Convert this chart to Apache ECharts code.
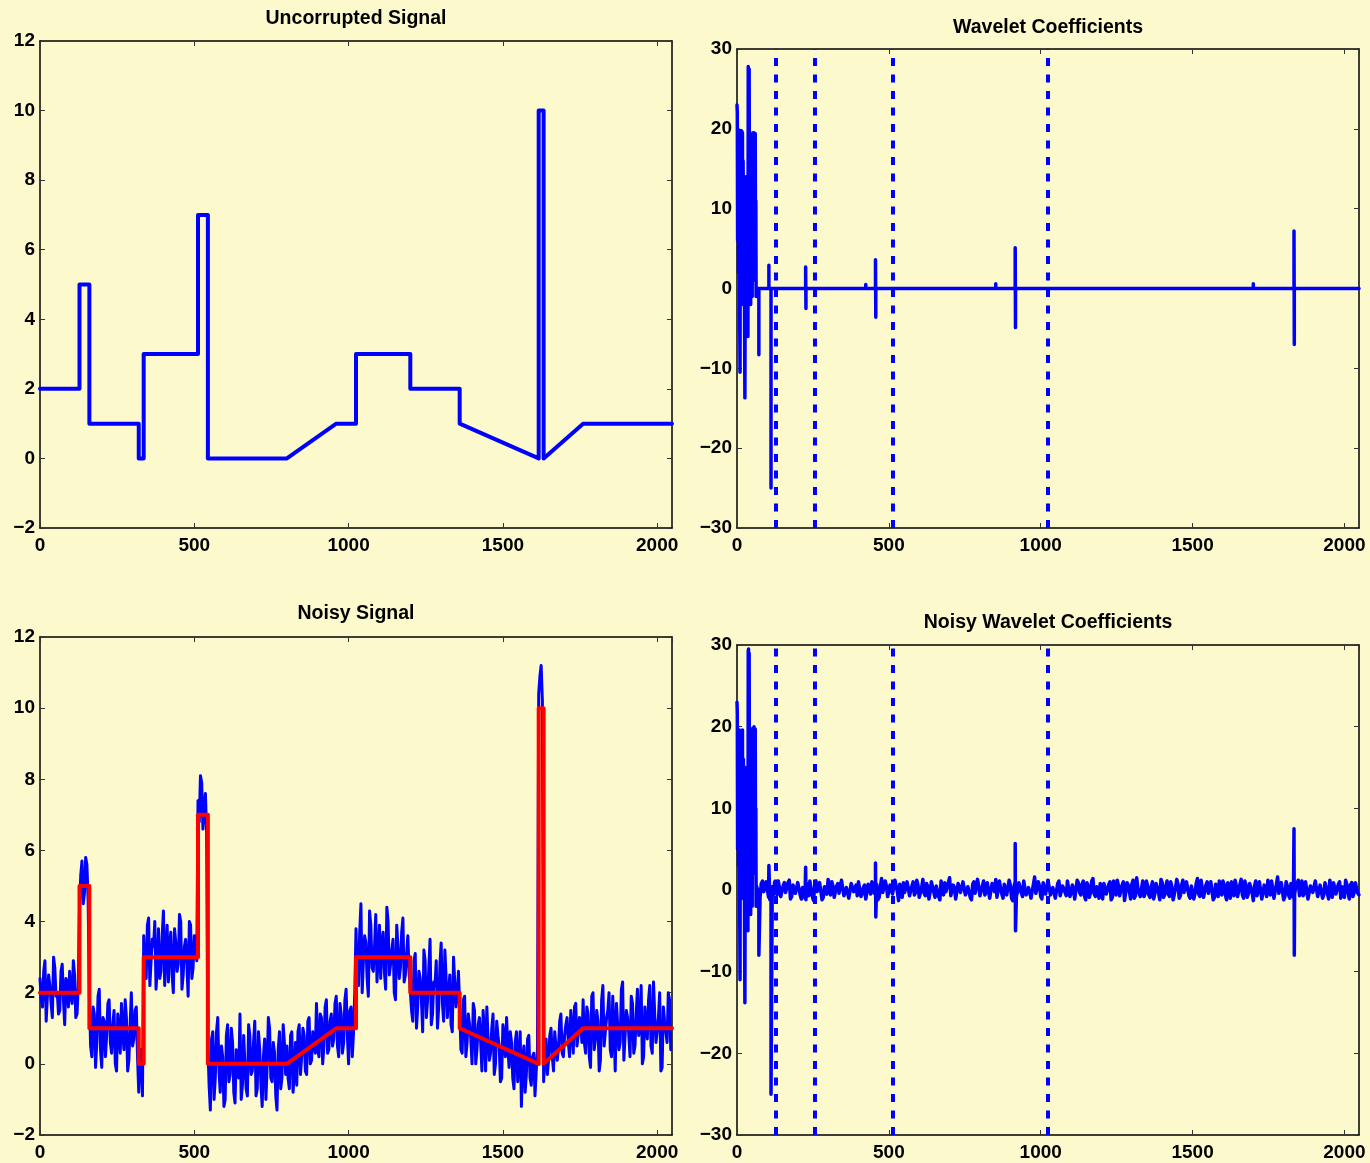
<!DOCTYPE html>
<html>
<head>
<meta charset="utf-8">
<title>Wavelet denoising</title>
<script src="https://cdn.jsdelivr.net/npm/echarts@6/dist/echarts.min.js"></script>
<style>
html, body { margin: 0; padding: 0; background: #fcfacc; }
#chart { width: 1370px; height: 1163px; }
</style>
</head>
<body>
<div id="chart"></div>
<script>
// clean piecewise signal (breakpoints)
const signalX = [0, 128, 128, 160, 160, 320, 320, 336, 336, 512, 512, 544, 544, 800, 960, 1024, 1024, 1200, 1200, 1360, 1360, 1616, 1616, 1632, 1632, 1760, 2048];
const signalY = [2, 2, 5, 5, 1, 1, 0, 0, 3, 3, 7, 7, 0, 0, 1, 1, 3, 3, 2, 2, 1, 0, 10, 10, 0, 1, 1];

// noisy signal, read at x = 0, 8, 16, ...
const noisyStep = 8;
const noisySignal = [
  2.4, 1.6, 2.9, 1.9, 2.2, 1.3, 2.7, 2.0, 1.5, 2.8, 1.1, 2.3, 2.6, 1.7, 2.5, 1.4,
  4.4, 5.7, 4.8, 5.6, 1.9, 0.2, 1.4, 0.6, 2.1, -0.1, 1.2, 0.8, 1.8, 0.3, 1.5, -0.2,
  1.0, 1.7, 0.4, 1.3, 0.1, 2.0, 0.7, 1.6, -0.8, 0.4, 3.6, 2.4, 4.1, 2.9, 3.3, 2.1,
  3.8, 2.6, 4.3, 3.1, 2.3, 3.7, 2.0, 3.4, 2.8, 4.0, 2.5, 3.5, 1.9, 3.9, 2.7, 3.2,
  7.4, 8.1, 6.6, 7.6, 0.5, -1.3, 0.9, -0.4, 1.3, -0.8, 0.2, -1.0, 1.1, -0.3, 0.6, -1.1,
  0.3, 1.4, -0.6, 0.0, -0.9, 0.8, -0.2, 1.2, -0.7, 0.4, -1.2, 0.7, -0.1, 1.0, -0.5, 0.3,
  -1.3, 0.9, -0.4, 0.6, 0.5, -0.7, 0.9, -0.2, -0.6, 1.1, 0.2, 0.8, -0.3, 1.3, 0.1, 0.9,
  1.7, 0.2, 1.3, 0.5, 1.8, 0.4, 1.4, 0.7, 1.9, 0.2, 1.4, 0.6, 2.1, 0.0, 1.6, 0.9,
  3.8, 2.2, 4.5, 2.9, 3.4, 1.9, 3.9, 2.6, 4.2, 3.0, 2.4, 3.7, 2.1, 4.0, 2.8, 3.5,
  1.8, 3.3, 2.7, 4.1, 2.5, 3.6, 2.6, 1.2, 3.1, 1.6, 2.4, 0.9, 2.9, 1.8, 3.5, 1.4,
  2.2, 1.0, 2.8, 1.7, 3.2, 1.3, 2.5, 0.9, 3.0, 1.9, 1.6, 0.3, 1.9, 0.6, 1.1, 0.0,
  1.5, 0.4, 1.3, -0.2, 0.9, 1.6, 0.1, 1.0, -0.3, 1.2, 0.5, -0.4, 0.8, 1.3, -0.1, 0.6,
  -0.7, 0.9, 0.2, -1.2, 0.5, -0.3, 0.8, -0.6, 0.3, -0.2, 10.4, 11.2, -0.5, 0.7, 0.1, 1.0,
  -0.2, 0.9, 0.4, 1.4, 0.2, 1.1, 0.6, 1.5, 0.3, 1.7, 0.8, 1.2, 1.8, 0.3, 1.4, -0.1,
  2.0, 0.7, 1.2, 0.1, 2.2, 0.9, 1.5, 0.4, 1.9, -0.2, 1.1, 0.6, 2.3, 0.8, 1.3, 0.2,
  1.7, 0.5, 2.1, 1.0, 0.0, 1.6, 0.7, 2.2, 0.3, 1.4, 0.9, 2.0, -0.1, 1.2, 0.6, 1.8
];
// noisy signal, read at x = 4, 12, 20, ...
const noisySignalMid = [
  1.8, 2.6, 1.2, 2.5, 1.7, 3.0, 1.9, 1.4, 2.6, 1.8, 2.4, 1.6, 1.9, 2.9, 1.3, 2.2,
  5.3, 4.5, 5.8, 4.6, 0.5, 1.6, -0.1, 1.9, 0.4, 1.3, 0.2, 1.7, 0.6, 1.1, 0.0, 1.4,
  0.3, 0.9, 1.8, -0.2, 1.1, 0.5, 1.5, 0.2, 0.3, -0.9, 2.6, 3.9, 2.2, 3.5, 4.0, 2.7,
  2.4, 3.6, 2.2, 3.9, 3.4, 2.5, 3.8, 2.6, 4.2, 2.1, 3.3, 2.8, 4.0, 2.4, 3.6, 2.9,
  6.8, 7.9, 7.2, 6.5, -0.6, 0.7, -1.0, 0.9, -0.2, 0.5, -1.2, 0.8, -0.5, 1.0, -0.8, 0.4,
  -0.4, -1.0, 0.8, -0.7, 1.1, -0.3, 0.6, -0.9, 0.9, -0.6, 0.2, -1.0, 1.3, -0.4, 0.6, -0.9,
  0.4, -0.7, 1.1, -0.3, -0.4, 0.8, -0.8, 0.6, 0.9, -0.3, 1.0, -0.2, 1.2, 0.0, 0.9, 0.3,
  0.4, 1.4, 0.0, 1.6, 0.3, 1.2, 0.5, 1.7, 0.5, 1.7, 0.3, 1.8, 0.8, 1.5, 0.2, 2.0,
  2.5, 3.7, 2.0, 3.6, 2.4, 4.3, 2.7, 3.3, 2.3, 3.9, 3.4, 2.6, 4.4, 2.5, 3.2, 2.0,
  3.9, 2.4, 3.7, 2.3, 3.1, 2.6, 1.5, 2.9, 1.0, 2.6, 1.8, 3.2, 1.3, 2.7, 1.1, 2.3,
  2.9, 1.6, 3.4, 1.2, 2.4, 2.0, 1.1, 3.0, 1.6, 2.6, 0.4, 1.8, 0.2, 1.4, 0.7, 1.7,
  0.0, 1.1, 0.6, 1.5, -0.2, 0.7, 0.3, 1.4, 0.0, 0.8, -0.5, 1.1, 0.2, 0.5, 0.9, -0.4,
  0.6, -0.5, 0.9, 0.1, -0.8, 0.7, -0.4, 0.2, -0.9, 0.4, 10.9, 10.2, 0.3, -0.3, 0.8, 0.2,
  0.9, 0.1, 1.2, 0.3, 0.8, 1.3, 0.2, 1.0, 1.6, 0.5, 1.3, 0.6, 0.6, 1.6, 0.2, 1.9,
  0.4, 1.5, -0.2, 1.8, 0.5, 1.3, 2.0, 0.2, 1.0, 1.7, 0.4, 2.1, 0.1, 1.5, 0.8, 1.9,
  0.3, 1.4, 0.8, 2.2, 0.2, 1.1, 1.8, 0.5, 2.3, 0.6, 1.3, -0.2, 1.6, 0.9, 2.0, 0.4
];

// wavelet coefficients: coarse part (index 0..64)
const coefHead = [
  23, 22, 6, 20, 19.6, 2, 18, 10, 19.8, -4, -10.5, 19.5, 8, 19.8, 1, 17,
  19.7, 5, 19.5, -2, 16, 16.2, 3, 12, 6, -5, -13.7, 2, 9, 14, 4, 8,
  1, 12, 5, 10, -6, 27.8, 28, 14, 27.5, 6, 9, 2, 11, -2, 7, 13,
  3, 8, -1, 12, 19.5, 6, 19.3, 2, 19.5, 9, 17, 1, 19.4, 4, 11, -1,
  0
];
// isolated detail coefficients (everything else is zero)
const coefSpikeX = [72, 105, 112, 226, 227, 424, 456, 457, 852, 916, 917, 1700, 1834, 1835];
const coefSpikeY = [-8.3, 2.9, -25, 2.7, -2.5, 0.5, 3.6, -3.6, 0.6, 5.1, -4.9, 0.6, 7.2, -7];

// noisy coefficients
const noisyHead = [
  23, 21.5, 5, 19.5, 19.2, 3, 17.5, 11, 19.6, -3, -11, 19.2, 7, 19.5, 2, 16,
  19.3, 4, 19.6, -1, 15.5, 16, 4, 11, 7, -6, -13.8, 3, 8, 15, 5, 9,
  2, 11, 6, 9, -5, 29.2, 29.5, 13, 29, 7, 8, 3, 10, -3, 8, 12,
  4, 7, -2, 13, 19.8, 5, 19.6, 3, 20, 8, 16, 2, 19.7, 5, 10, -2,
  0.5
];
const noisySpikeX = [72, 105, 112, 226, 227, 456, 457, 916, 917, 1834, 1835];
const noisySpikeY = [-8, 3, -25, 2.8, -1.2, 3.3, -3.3, 5.7, -5, 7.5, -8];
// small noisy coefficients, read at x = 68, 76, 84, ...
const noiseStart = 68;
const noiseStep = 8;
const noisyNoise = [
  0.6, -0.9, 1.1, -0.3, 0.8, -1.2, 0.4, 1.0, -0.6, 0.2, -1.0, 0.9, -0.4, 1.2, -0.8, 0.3,
  -0.2, 1.0, -1.1, 0.5, 0.9, -0.7, 0.1, -1.3, 1.1, -0.4, 0.7, -0.9, 0.3, 1.3, -0.6, 0.5,
  -1.0, 0.8, -0.3, 1.1, -0.8, 0.4, -1.2, 0.9, 0.0, -0.7, 1.2, -0.5, 0.6, -1.1, 0.2, 1.0,
  -0.4, 0.7, -0.9, 1.4, -0.2, 0.5, -1.0, 0.8, -0.6, 1.1, -1.3, 0.3, 0.9, -0.5, 0.2, -0.8,
  1.0, -0.3, 0.6, -1.1, 1.3, -0.7, 0.4, -0.2, 1.1, -0.9, 0.7, -1.2, 0.2, 0.9, -0.4, 1.5,
  -0.8, 0.3, -1.0, 0.8, -0.5, 1.2, -0.1, 0.6, -1.2, 1.0, -0.6, 0.4, -0.9, 1.1, -0.3, 0.7,
  -1.1, 0.5, 1.3, -0.7, 0.2, -1.0, 0.9, -0.4, 0.6, -1.3, 1.0, -0.2, 0.8, -0.8, 1.2, -0.5,
  0.3, -0.9, 1.6, -0.6, 0.5, -1.1, 0.7, -0.3, 1.0, -0.8, 0.4, -1.2, 1.1, -0.1, 0.6, -0.7,
  1.3, -0.4, 0.2, -1.0, 0.9, -0.6, 1.1, -1.2, 0.5, -0.3, 1.4, -0.8, 0.1, 0.8, -1.1, 0.6,
  -0.5, 1.0, -0.9, 0.3, 1.2, -0.7, 0.6, -1.3, 0.9, -0.2, 0.7, -1.0, 1.5, -0.4, 0.2, -0.8,
  1.1, -0.6, 0.4, -1.1, 0.8, -0.3, 1.3, -0.9, 0.5, -0.5, 1.0, -1.2, 0.3, 0.7, -0.7, 1.2,
  -0.2, 0.9, -1.0, 0.6, -0.4, 1.4, -0.8, 0.2, -1.1, 1.0, -0.5, 0.8, -0.9, 0.4, 1.1, -0.6,
  0.7, -1.2, 0.3, 1.0, -0.7, 0.5, -0.1, 1.3, -1.0, 0.6, -0.4, 0.9, -1.3, 1.1, -0.2, 0.8,
  -0.9, 0.4, 1.2, -0.6, 0.1, -1.1, 1.6, -0.3, 0.7, -0.8, 0.5, -1.0, 1.0, -0.5, 0.3, -0.7,
  1.1, -0.4, 0.8, -1.2, 0.6, -0.2, 1.3, -0.9, 0.4, -0.6, 1.0, -1.1, 0.2, 0.9, -0.5, 0.7,
  -1.0, 0.5, 1.2, -0.3, 0.6, -0.8, 0.9, -0.4
];
// small noisy coefficients, read at x = 72, 80, 88, ...
const noiseMidStart = 72;
const noisyNoiseMid = [
  -0.5, 0.8, -0.2, 1.0, -0.9, 0.4, -0.6, 0.2, 1.1, -0.8, 0.5, -0.3, 0.9, -1.1, 0.6, -0.4,
  0.9, -0.6, 0.3, -1.0, 0.4, 1.1, -0.8, 0.6, -0.2, 0.9, -1.2, 0.4, -0.5, 0.7, 1.0, -0.9,
  0.5, -0.4, 1.2, -0.7, 0.3, -1.0, 0.8, -0.2, 0.6, 1.0, -0.8, 0.3, -1.1, 0.7, -0.5, 0.2,
  0.9, -1.2, 0.4, -0.3, 1.1, -0.8, 0.6, -0.5, 1.2, -0.2, 0.7, -0.9, -0.3, 1.0, -0.7, 0.5,
  -0.6, 1.2, -0.9, 0.3, -0.4, 0.8, -1.1, 1.0, -0.3, 0.5, -0.8, 1.1, -0.6, -0.2, 0.9, -0.7,
  0.6, -1.1, 0.8, -0.3, 1.0, -0.6, 0.4, -0.9, 0.7, -0.4, 1.3, -0.7, 0.5, -0.6, 0.9, -1.0,
  0.8, -0.2, -0.9, 1.1, -0.5, 0.7, -0.6, 1.2, -1.0, 0.4, -0.7, 0.9, -0.3, 1.1, -0.6, 0.3,
  -1.0, 0.7, -0.4, 1.0, -0.8, 0.9, -0.5, 1.2, -0.6, 0.3, -1.0, 0.8, -0.7, 0.5, -0.3, 1.1,
  -0.8, 0.6, -1.1, 1.2, -0.3, 0.7, -0.7, 0.9, -0.9, 1.1, -0.5, 0.4, -1.0, 0.6, 0.8, -0.5,
  0.7, -1.2, 1.1, -0.6, 0.5, -0.9, 1.0, -0.3, 0.6, -1.1, 1.2, -0.7, 0.2, -0.8, 1.1, -0.4,
  0.5, -0.9, 1.0, -0.4, 0.7, -1.2, 0.9, -0.6, 1.1, -0.8, 0.4, -0.5, 1.3, -1.0, 0.6, -0.3,
  1.0, -0.7, 0.5, -1.1, 0.8, -0.5, 1.2, -0.9, 0.6, -0.4, 1.0, -1.2, 0.7, -0.8, 0.3, 1.1,
  -0.6, 0.9, -1.0, 0.4, 1.2, -0.8, 0.7, -0.6, 1.1, -0.9, 0.8, -0.3, 0.5, -0.7, 1.0, -1.1,
  0.6, -0.8, 0.3, 1.1, -1.0, 0.7, -0.4, 0.9, -1.2, 1.0, -0.6, 0.8, -0.9, 0.4, 1.2, -0.5,
  -0.7, 1.0, -1.1, 0.5, -0.3, 1.1, -0.8, 0.6, -1.0, 0.9, -0.4, 1.2, -0.9, 0.3, -0.6, 1.0,
  0.4, -0.9, 0.7, -1.1, 0.9, -0.3, 1.0, -0.6
];

// scale boundaries
const dividerX = [128, 256, 512, 1024];

const titles = ['Uncorrupted Signal', 'Wavelet Coefficients', 'Noisy Signal', 'Noisy Wavelet Coefficients'];
const N = 2048;

// ---- build series data ----
const byX = (a, b) => a[0] - b[0];
const signalData = signalX.map((x, i) => [x, signalY[i]]);

const noisyData = noisySignal.map((v, i) => [i * noisyStep, v])
  .concat(noisySignalMid.map((v, i) => [i * noisyStep + noisyStep / 2, v]))
  .sort(byX);

// clean coefficients: head, then zero line with spikes (zero anchors keep spikes vertical)
const coefData = coefHead.map((v, i) => [i, v]);
coefSpikeX.forEach((x, i) => {
  if (coefSpikeX[i - 1] !== x - 1) coefData.push([x, 0]);
  coefData.push([x, coefSpikeY[i]]);
  if (coefSpikeX[i + 1] !== x + 1) coefData.push([x, 0]);
});
coefData.push([N, 0]);

const noisyCoefData = noisyHead.map((v, i) => [i, v])
  .concat(noisyNoise.map((v, i) => [noiseStart + i * noiseStep, v]))
  .concat(noisyNoiseMid.map((v, i) => [noiseMidStart + i * noiseStep, v]))
  .concat(noisySpikeX.map((x, i) => [x, noisySpikeY[i]]))
  .sort(byX);

// ---- layout ----
const grids = [
  { left: 40, top: 41, width: 632, height: 487 },
  { left: 737, top: 49, width: 622, height: 479 },
  { left: 40, top: 637, width: 632, height: 498 },
  { left: 737, top: 645, width: 622, height: 490 }
];
const titleTops = [9, 18, 604, 613];
const yRanges = [[-2, 12, 2], [-30, 30, 10], [-2, 12, 2], [-30, 30, 10]];

const FONT = '"Liberation Sans", Arial, Helvetica, sans-serif';
const fmt = v => (v < 0 ? '\u2212' + Math.abs(v) : String(v));

const axisLine = { show: true, onZero: false, lineStyle: { color: '#000', width: 1.5 } };
const tick = { show: true, inside: true, length: 5, lineStyle: { color: '#333', width: 1 } };
const label = { color: '#000', fontFamily: FONT, fontWeight: 'bold', fontSize: 19 };

const xAxes = [];
const yAxes = [];
grids.forEach((g, k) => {
  xAxes.push({
    type: 'value', gridIndex: k, position: 'bottom', min: 0, max: N, interval: 500,
    axisLine, axisTick: tick, splitLine: { show: false },
    axisLabel: Object.assign({ margin: 8, showMaxLabel: false, formatter: v => (v % 500 === 0 ? fmt(v) : '') }, label)
  });
  xAxes.push({
    type: 'value', gridIndex: k, position: 'top', min: 0, max: N, interval: 500,
    axisLine, axisTick: tick, splitLine: { show: false }, axisLabel: { show: false }
  });
  const r = yRanges[k];
  yAxes.push({
    type: 'value', gridIndex: k, position: 'left', min: r[0], max: r[1], interval: r[2],
    axisLine, axisTick: tick, splitLine: { show: false },
    axisLabel: Object.assign({ margin: 5, formatter: fmt }, label)
  });
  yAxes.push({
    type: 'value', gridIndex: k, position: 'right', min: r[0], max: r[1], interval: r[2],
    axisLine, axisTick: tick, splitLine: { show: false }, axisLabel: { show: false }
  });
});

const dividers = {
  symbol: 'none', silent: true, label: { show: false },
  lineStyle: { color: '#0000ff', width: 4, type: [8, 8.5] },
  data: dividerX.map(v => ({ xAxis: v }))
};

function lineSeries(k, data, color, width, extra) {
  return Object.assign({
    type: 'line', xAxisIndex: 2 * k, yAxisIndex: 2 * k, data,
    showSymbol: false, symbol: 'none', silent: true, animation: false,
    lineStyle: { color, width, join: 'round', cap: 'round' }
  }, extra || {});
}

const chart = echarts.init(document.getElementById('chart'), null, { renderer: 'canvas' });
chart.setOption({
  backgroundColor: '#fcfacc',
  animation: false,
  title: titles.map((t, k) => ({
    text: t, left: grids[k].left + grids[k].width / 2, top: titleTops[k], textAlign: 'center', padding: 0,
    textStyle: { color: '#000', fontFamily: FONT, fontWeight: 'bold', fontSize: 19.5 }
  })),
  grid: grids,
  xAxis: xAxes,
  yAxis: yAxes,
  series: [
    lineSeries(0, signalData, '#0000ff', 4),
    lineSeries(1, coefData, '#0000ff', 3.5, { markLine: dividers }),
    lineSeries(2, noisyData, '#0000ff', 3),
    lineSeries(2, signalData, '#ff0000', 4),
    lineSeries(3, noisyCoefData, '#0000ff', 3.5, { markLine: dividers })
  ]
});
</script>
</body>
</html>
